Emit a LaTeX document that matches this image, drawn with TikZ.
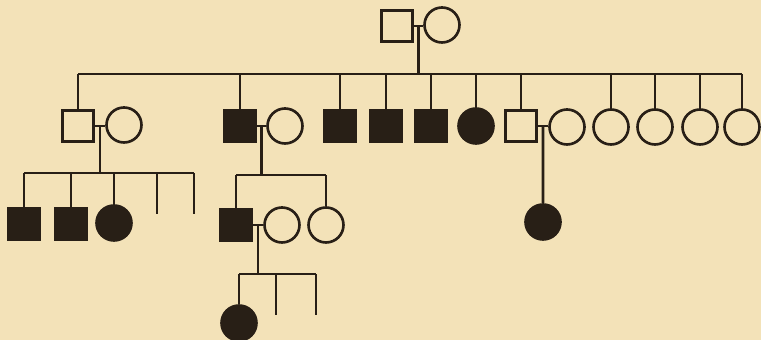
\documentclass[tikz,border=0pt]{standalone}
\usetikzlibrary{calc}
\definecolor{paper}{RGB}{243,226,184}
\definecolor{ink}{RGB}{40,31,22}

\begin{document}
\begin{tikzpicture}[x=0.02cm, y=-0.02cm, line width=1.5pt, draw=ink,
    male/.style={draw=ink, rectangle, minimum size=6.2mm, inner sep=0pt},
    female/.style={draw=ink, circle, minimum size=7mm, inner sep=0pt},
    hit/.style={fill=ink}]
  \fill[paper] (0,0) rectangle (761,340);
  \useasboundingbox (0,0) rectangle (761,340);
  % parents
  \node[male]   (p1) at (397,26) {};
  \node[female] (p2) at (442,25) {};
  \draw (p1.east) -- (p1.east -| p2.west);
  \coordinate (p12) at ($(p1.east)!0.5!(p1.east -| p2.west)$);
  \coordinate (sib1) at (0,74);
  \draw (p12) -- (p12 |- sib1);
  % second generation
  \node[male]       (a1)  at (78,126)  {};
  \node[female]     (a1w) at (124,125) {};
  \node[male, hit]  (a2)  at (240,126) {};
  \node[female]     (a2w) at (285,126) {};
  \node[male, hit]  (a3)  at (340,126) {};
  \node[male, hit]  (a4)  at (386,126) {};
  \node[male, hit]  (a5)  at (431,126) {};
  \node[female, hit](a6)  at (476,126) {};
  \node[male]       (a7)  at (521,126) {};
  \node[female]     (a7w) at (567,127) {};
  \node[female]     (a8)  at (611,127) {};
  \node[female]     (a9)  at (655,127) {};
  \node[female]     (a10) at (700,127) {};
  \node[female]     (a11) at (742,127) {};
  \draw (a1.north |- sib1) -- (a11.north |- sib1);
  \foreach \c in {a1,a2,a3,a4,a5,a6,a7,a8,a9,a10,a11}
    \draw (\c.north) -- (\c.north |- sib1);
  \foreach \m/\w in {a1/a1w,a2/a2w,a7/a7w}{
    \draw (\m.east) -- (\m.east -| \w.west);
    \coordinate (\m x) at ($(\m.east)!0.5!(\m.east -| \w.west)$);
  }
  % third generation, left
  \coordinate (sib2) at (0,173);
  \draw (a1x) -- (a1x |- sib2);
  \node[male, hit]   (b1) at (24,224)  {};
  \node[male, hit]   (b2) at (71,224)  {};
  \node[female, hit] (b3) at (114,223) {};
  \coordinate (b4) at (157,214);
  \coordinate (b5) at (194,214);
  \draw (b1.north |- sib2) -- (b5 |- sib2);
  \foreach \c in {b1.north,b2.north,b3.north,b4,b5}
    \draw (\c) -- (\c |- sib2);
  % third generation, middle
  \coordinate (sib3) at (0,175);
  \draw (a2x) -- (a2x |- sib3);
  \node[male, hit] (c1)  at (236,225) {};
  \node[female]    (c1w) at (282,225) {};
  \node[female]    (c2)  at (326,225) {};
  \draw (c1.north |- sib3) -- (c2.north |- sib3);
  \foreach \c in {c1,c2}
    \draw (\c.north) -- (\c.north |- sib3);
  \draw (c1.east) -- (c1.east -| c1w.west);
  \coordinate (c1x) at ($(c1.east)!0.5!(c1.east -| c1w.west)$);
  % third generation, right
  \node[female, hit] (d1) at (543,222) {};
  \draw (a7x) -- (d1.north);
  % fourth generation
  \coordinate (sib4) at (0,274);
  \draw (c1x) -- (c1x |- sib4);
  \node[female, hit] (e1) at (239,323) {};
  \coordinate (e2) at (276,315);
  \coordinate (e3) at (316,315);
  \draw (e1.north |- sib4) -- (e3 |- sib4);
  \foreach \c in {e1.north,e2,e3}
    \draw (\c) -- (\c |- sib4);
\end{tikzpicture}
\end{document}
